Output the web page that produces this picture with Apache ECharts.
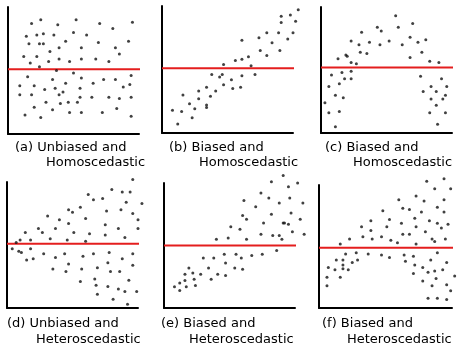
<!DOCTYPE html>
<html>
<head>
<meta charset="utf-8">
<script src="https://cdn.jsdelivr.net/npm/echarts@6/dist/echarts.min.js"></script>
<style>
  html, body { margin: 0; padding: 0; background: #fff; }
  #chart { width: 474px; height: 354px; }
</style>
</head>
<body>
<div id="chart"></div>
<script>
// dots, x and y on a 0-100 scale of the axes box
var pointsA = [[25,90],[52,90],[18,87],[38,86],[70,87],[95,88],[80,83],[50,80],[14,77],[22,78],[27,79],[35,78],[60,78],[16,71],[24,71],[27,71],[44,73],[69,72],[92,73],[39,68],[56,68],[82,68],[32,65],[85,63],[12,61],[22,61],[56,59],[67,59],[39,59],[31,57],[47,57],[77,57],[17,56],[24,53],[37,50],[50,48],[15,45],[56,44],[34,43],[73,43],[82,43],[94,46],[44,40],[65,40],[9,38],[20,38],[93,39],[88,37],[28,35],[36,36],[55,36],[42,33],[9,31],[18,31],[39,31],[55,29],[64,29],[77,29],[85,28],[94,29],[29,25],[46,25],[40,24],[53,25],[20,21],[34,19],[83,20],[47,17],[56,17],[72,17],[13,15],[25,13],[94,14]];
var pointsB = [[104,97],[91,92],[98,93],[91,87],[102,88],[80,79],[74,75],[89,79],[100,79],[61,73],[84,71],[96,74],[75,65],[90,65],[80,61],[56,57],[61,58],[66,60],[47,54],[68,53],[38,46],[44,44],[46,46],[61,45],[71,46],[53,42],[47,38],[54,35],[60,36],[34,36],[28,33],[41,33],[16,30],[28,27],[37,29],[21,23],[34,22],[34,20],[25,19],[8,18],[15,17],[23,12],[12,7]];
var pointsC = [[57,93],[59,84],[70,87],[43,84],[46,81],[31,80],[68,76],[23,73],[37,72],[52,73],[80,74],[74,72],[29,70],[45,70],[62,70],[30,64],[35,63],[77,64],[19,62],[20,61],[13,59],[68,60],[23,56],[27,55],[83,57],[90,56],[16,48],[23,49],[8,46],[18,43],[23,43],[76,45],[14,39],[6,37],[92,43],[84,37],[96,37],[88,33],[78,33],[11,30],[17,28],[95,30],[84,27],[93,27],[3,24],[88,22],[14,17],[6,16],[83,16],[95,16],[11,5],[89,7]];
var pointsD = [[96,102],[80,94],[88,92],[94,92],[62,90],[66,86],[73,87],[91,84],[103,83],[56,80],[47,78],[50,76],[76,77],[87,78],[31,73],[96,75],[60,71],[40,70],[47,67],[75,66],[100,70],[24,63],[37,63],[27,60],[14,60],[51,60],[63,59],[85,63],[100,63],[75,58],[33,55],[90,56],[7,52],[10,54],[18,54],[46,54],[60,53],[4,47],[9,45],[11,44],[18,47],[28,43],[44,43],[58,41],[66,43],[78,44],[96,43],[15,38],[20,39],[37,40],[47,35],[77,36],[88,39],[35,31],[57,31],[69,32],[45,29],[79,29],[86,29],[96,34],[56,21],[67,23],[68,18],[93,22],[77,17],[85,15],[69,11],[81,7],[90,13],[99,13],[92,3]];
var pointsE = [[91,106],[82,101],[102,100],[95,97],[74,92],[80,88],[96,88],[61,86],[88,84],[106,84],[70,81],[82,75],[97,76],[60,74],[63,71],[104,71],[76,68],[91,68],[92,68],[95,67],[51,65],[58,63],[98,61],[74,59],[83,58],[88,58],[107,59],[40,55],[49,56],[63,55],[90,55],[86,46],[30,40],[38,40],[46,43],[55,43],[59,40],[67,42],[75,43],[47,36],[19,32],[34,32],[54,32],[60,31],[16,27],[22,28],[28,27],[41,27],[47,26],[12,20],[16,22],[23,23],[36,23],[8,17],[12,14],[17,17],[24,18]];
var pointsF = [[94,105],[81,103],[87,97],[99,97],[73,91],[60,88],[79,87],[94,88],[63,81],[68,80],[89,82],[48,79],[77,78],[94,78],[72,73],[53,72],[39,71],[62,69],[83,71],[89,69],[32,66],[51,66],[73,66],[92,65],[97,68],[39,63],[80,62],[23,56],[33,58],[40,56],[47,58],[63,60],[68,60],[54,55],[59,53],[85,56],[87,54],[95,56],[16,52],[73,52],[20,44],[28,45],[37,44],[47,43],[53,41],[64,43],[71,42],[89,45],[13,39],[18,39],[25,37],[29,39],[7,33],[12,31],[18,35],[18,32],[22,31],[65,38],[72,35],[84,39],[96,37],[78,33],[71,28],[82,29],[87,30],[93,31],[102,26],[6,25],[16,25],[78,22],[88,24],[96,19],[85,18],[99,14],[6,18],[82,8],[89,8],[96,7]];

// height of the red reference line and how far it runs past the axis
var redLevel = [51, 51, 52, 51, 50, 49];
var redEnd = [103, 104, 101.5, 103, 102, 101.5];

var captionTop = ['(a) Unbiased and', '(b) Biased and', '(c) Biased and',
                  '(d) Unbiased and', '(e) Biased and', '(f) Biased and'];
var captionBottom = ['Homoscedastic', 'Homoscedastic', 'Homoscedastic',
                     'Heteroscedastic', 'Heteroscedastic', 'Heteroscedastic'];

var allPoints = [pointsA, pointsB, pointsC, pointsD, pointsE, pointsF];

var boxes = [
  { left: 8, top: 7, width: 131, height: 127 },
  { left: 162, top: 6, width: 131, height: 127 },
  { left: 321, top: 7, width: 131, height: 126 },
  { left: 7, top: 182, width: 131, height: 126 },
  { left: 164, top: 183, width: 131, height: 125 },
  { left: 319, top: 185, width: 133, height: 123 }
];
var captionPos = [
  [15, 149, 46, 164], [169, 149, 199, 164], [325, 149, 353, 164],
  [7, 325, 36, 341], [161, 325, 189, 341], [322, 325, 347, 341]
];

var myChart = echarts.init(document.getElementById('chart'));

var grids = [], xAxes = [], yAxes = [], series = [], texts = [];
boxes.forEach(function (b, i) {
  grids.push(b);
  xAxes.push({
    gridIndex: i, type: 'value', min: 0, max: 100,
    axisLine: { show: true, lineStyle: { color: '#000', width: 2 } },
    axisTick: { show: false }, axisLabel: { show: false }, splitLine: { show: false }
  });
  yAxes.push({
    gridIndex: i, type: 'value', min: 0, max: 100,
    axisLine: { show: true, lineStyle: { color: '#000', width: 2 } },
    axisTick: { show: false }, axisLabel: { show: false }, splitLine: { show: false }
  });
  series.push({
    type: 'line', xAxisIndex: i, yAxisIndex: i, clip: false,
    symbol: 'none', silent: true,
    lineStyle: { color: '#e41e1e', width: 2 },
    data: [[0, redLevel[i]], [redEnd[i], redLevel[i]]],
    z: 3
  });
  series.push({
    type: 'scatter', xAxisIndex: i, yAxisIndex: i, clip: false,
    symbol: 'circle', symbolSize: 3,
    itemStyle: { color: '#111' },
    data: allPoints[i],
    z: 4
  });
  var p = captionPos[i];
  texts.push({
    type: 'text', left: p[0], top: p[1] - 8,
    style: { text: captionTop[i], fill: '#000', font: '13px "DejaVu Sans"' }
  });
  texts.push({
    type: 'text', left: p[2], top: p[3] - 8,
    style: { text: captionBottom[i], fill: '#000', font: '13px "DejaVu Sans"' }
  });
});

var option = {
  animation: false,
  backgroundColor: '#fff',
  grid: grids,
  xAxis: xAxes,
  yAxis: yAxes,
  series: series,
  graphic: texts
};
myChart.setOption(option);
</script>
</body>
</html>
